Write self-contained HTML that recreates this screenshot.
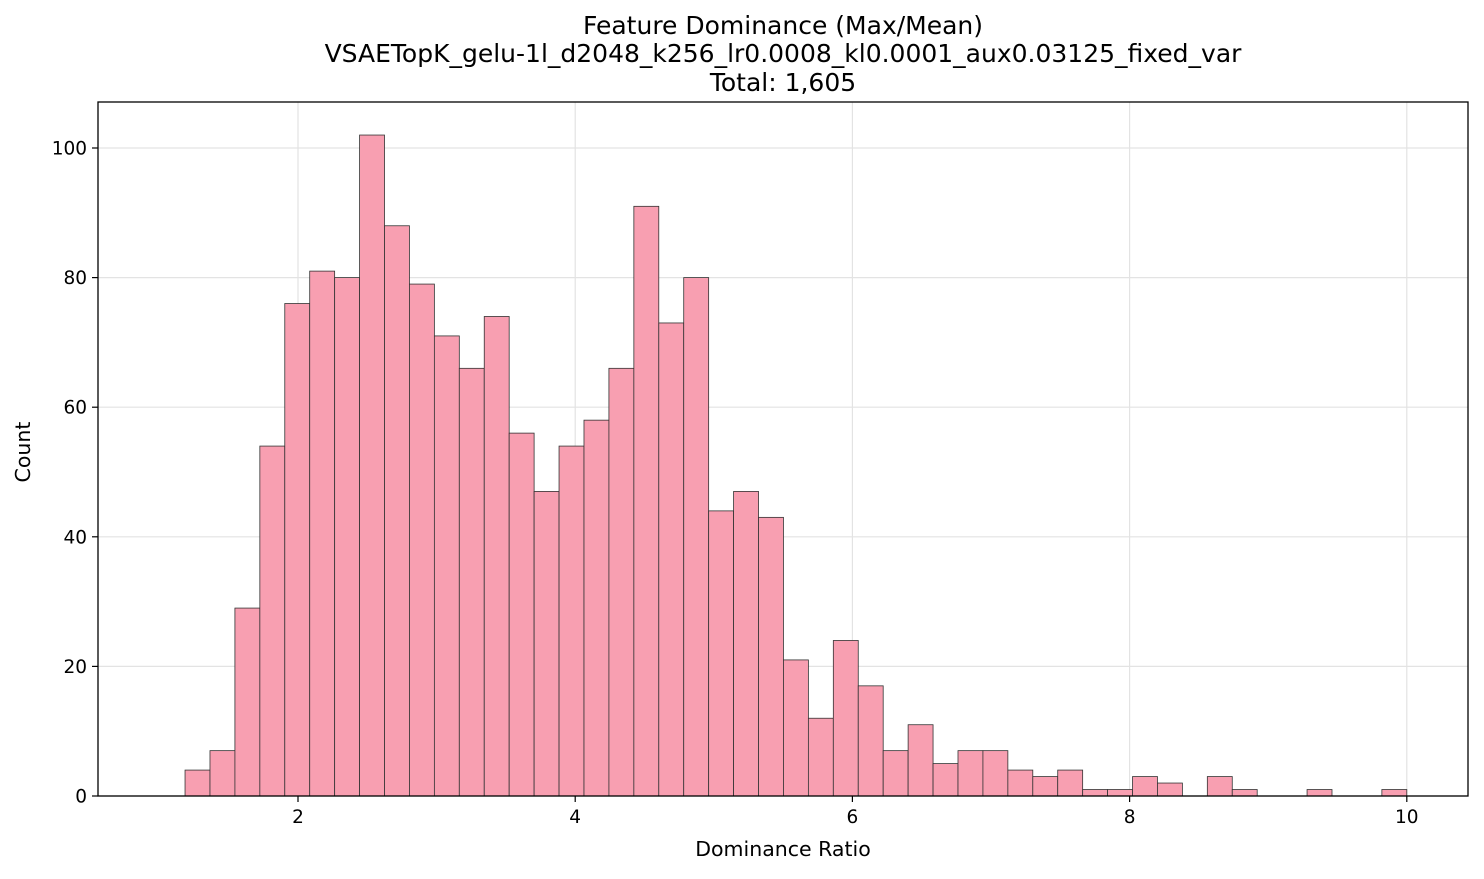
<!DOCTYPE html>
<html><head><meta charset="utf-8"><style>
body{margin:0;background:#fff;font-family:"Liberation Sans","DejaVu Sans",sans-serif}
svg text{font-family:"DejaVu Sans","Liberation Sans",sans-serif;fill:#000}
</style></head><body>
<svg id="c" width="1484" height="874" xmlns="http://www.w3.org/2000/svg">
<text x="783" y="34" text-anchor="middle" font-size="25">Feature Dominance (Max/Mean)</text>
<text x="783" y="62" text-anchor="middle" font-size="25">VSAETopK_gelu-1l_d2048_k256_lr0.0008_kl0.0001_aux0.03125_fixed_var</text>
<text x="783" y="91" text-anchor="middle" font-size="25">Total: 1,605</text>
<text x="783" y="856" text-anchor="middle" font-size="20.5">Dominance Ratio</text>
<text x="30" y="452" text-anchor="middle" font-size="20.5" transform="rotate(-90 30 452)">Count</text>
<g id="grid"></g><g id="bars"></g><g id="ticks"></g>
<rect x="98" y="102" width="1370" height="694" fill="none" stroke="#000" stroke-width="1.3"/>
</svg>
<script>
const binStart = 1.185;
const binEnd = 10.0;
const counts = [4,7,29,54,76,81,80,102,88,79,71,66,74,56,47,54,58,66,91,73,80,44,47,43,21,12,24,17,7,11,5,7,7,4,3,4,1,1,3,2,0,3,1,0,0,1,0,0,1];
const xTicks = [2,4,6,8,10];
const yTicks = [0,20,40,60,80,100];
const NS="http://www.w3.org/2000/svg";
const xs=v=>20.8+v*138.6;
const ys=v=>796-v*6.48;
function mk(t,a,p){const e=document.createElementNS(NS,t);for(const k in a)e.setAttribute(k,a[k]);p.appendChild(e);return e;}
const grid=document.getElementById('grid'),bars=document.getElementById('bars'),ticks=document.getElementById('ticks');
xTicks.forEach(t=>{
 const g=mk('line',{x1:xs(t),x2:xs(t),y1:102,y2:796,stroke:'#e3e3e3','stroke-width':1.2},grid);
 
 
 const l=mk('line',{x1:xs(t),x2:xs(t),y1:796,y2:802,stroke:'#000','stroke-width':1.2},ticks);
 
 
 const tx=mk('text',{x:xs(t),y:823,'text-anchor':'middle','font-size':18.5},ticks);tx.textContent=t;
 
 
});
yTicks.forEach(t=>{
 const g=mk('line',{x1:98,x2:1468,y1:ys(t),y2:ys(t),stroke:'#e3e3e3','stroke-width':1.2},grid);
 
 
 const l=mk('line',{x1:92,x2:98,y1:ys(t),y2:ys(t),stroke:'#000','stroke-width':1.2},ticks);
 
 
 const tx=mk('text',{x:87,y:ys(t)+6.5,'text-anchor':'end','font-size':18.5},ticks);tx.textContent=t;
 
 
});
const w=(binEnd-binStart)/counts.length;
counts.forEach((c,i)=>{
 if(c<=0)return;
 const x0=xs(binStart+i*w),x1=xs(binStart+(i+1)*w);
 const r=mk('rect',{x:x0,y:ys(c),width:x1-x0,height:ys(0)-ys(c),fill:'#f89fb1',stroke:'#333','stroke-width':0.8},bars);
 
 
});
</script>
</body></html>
